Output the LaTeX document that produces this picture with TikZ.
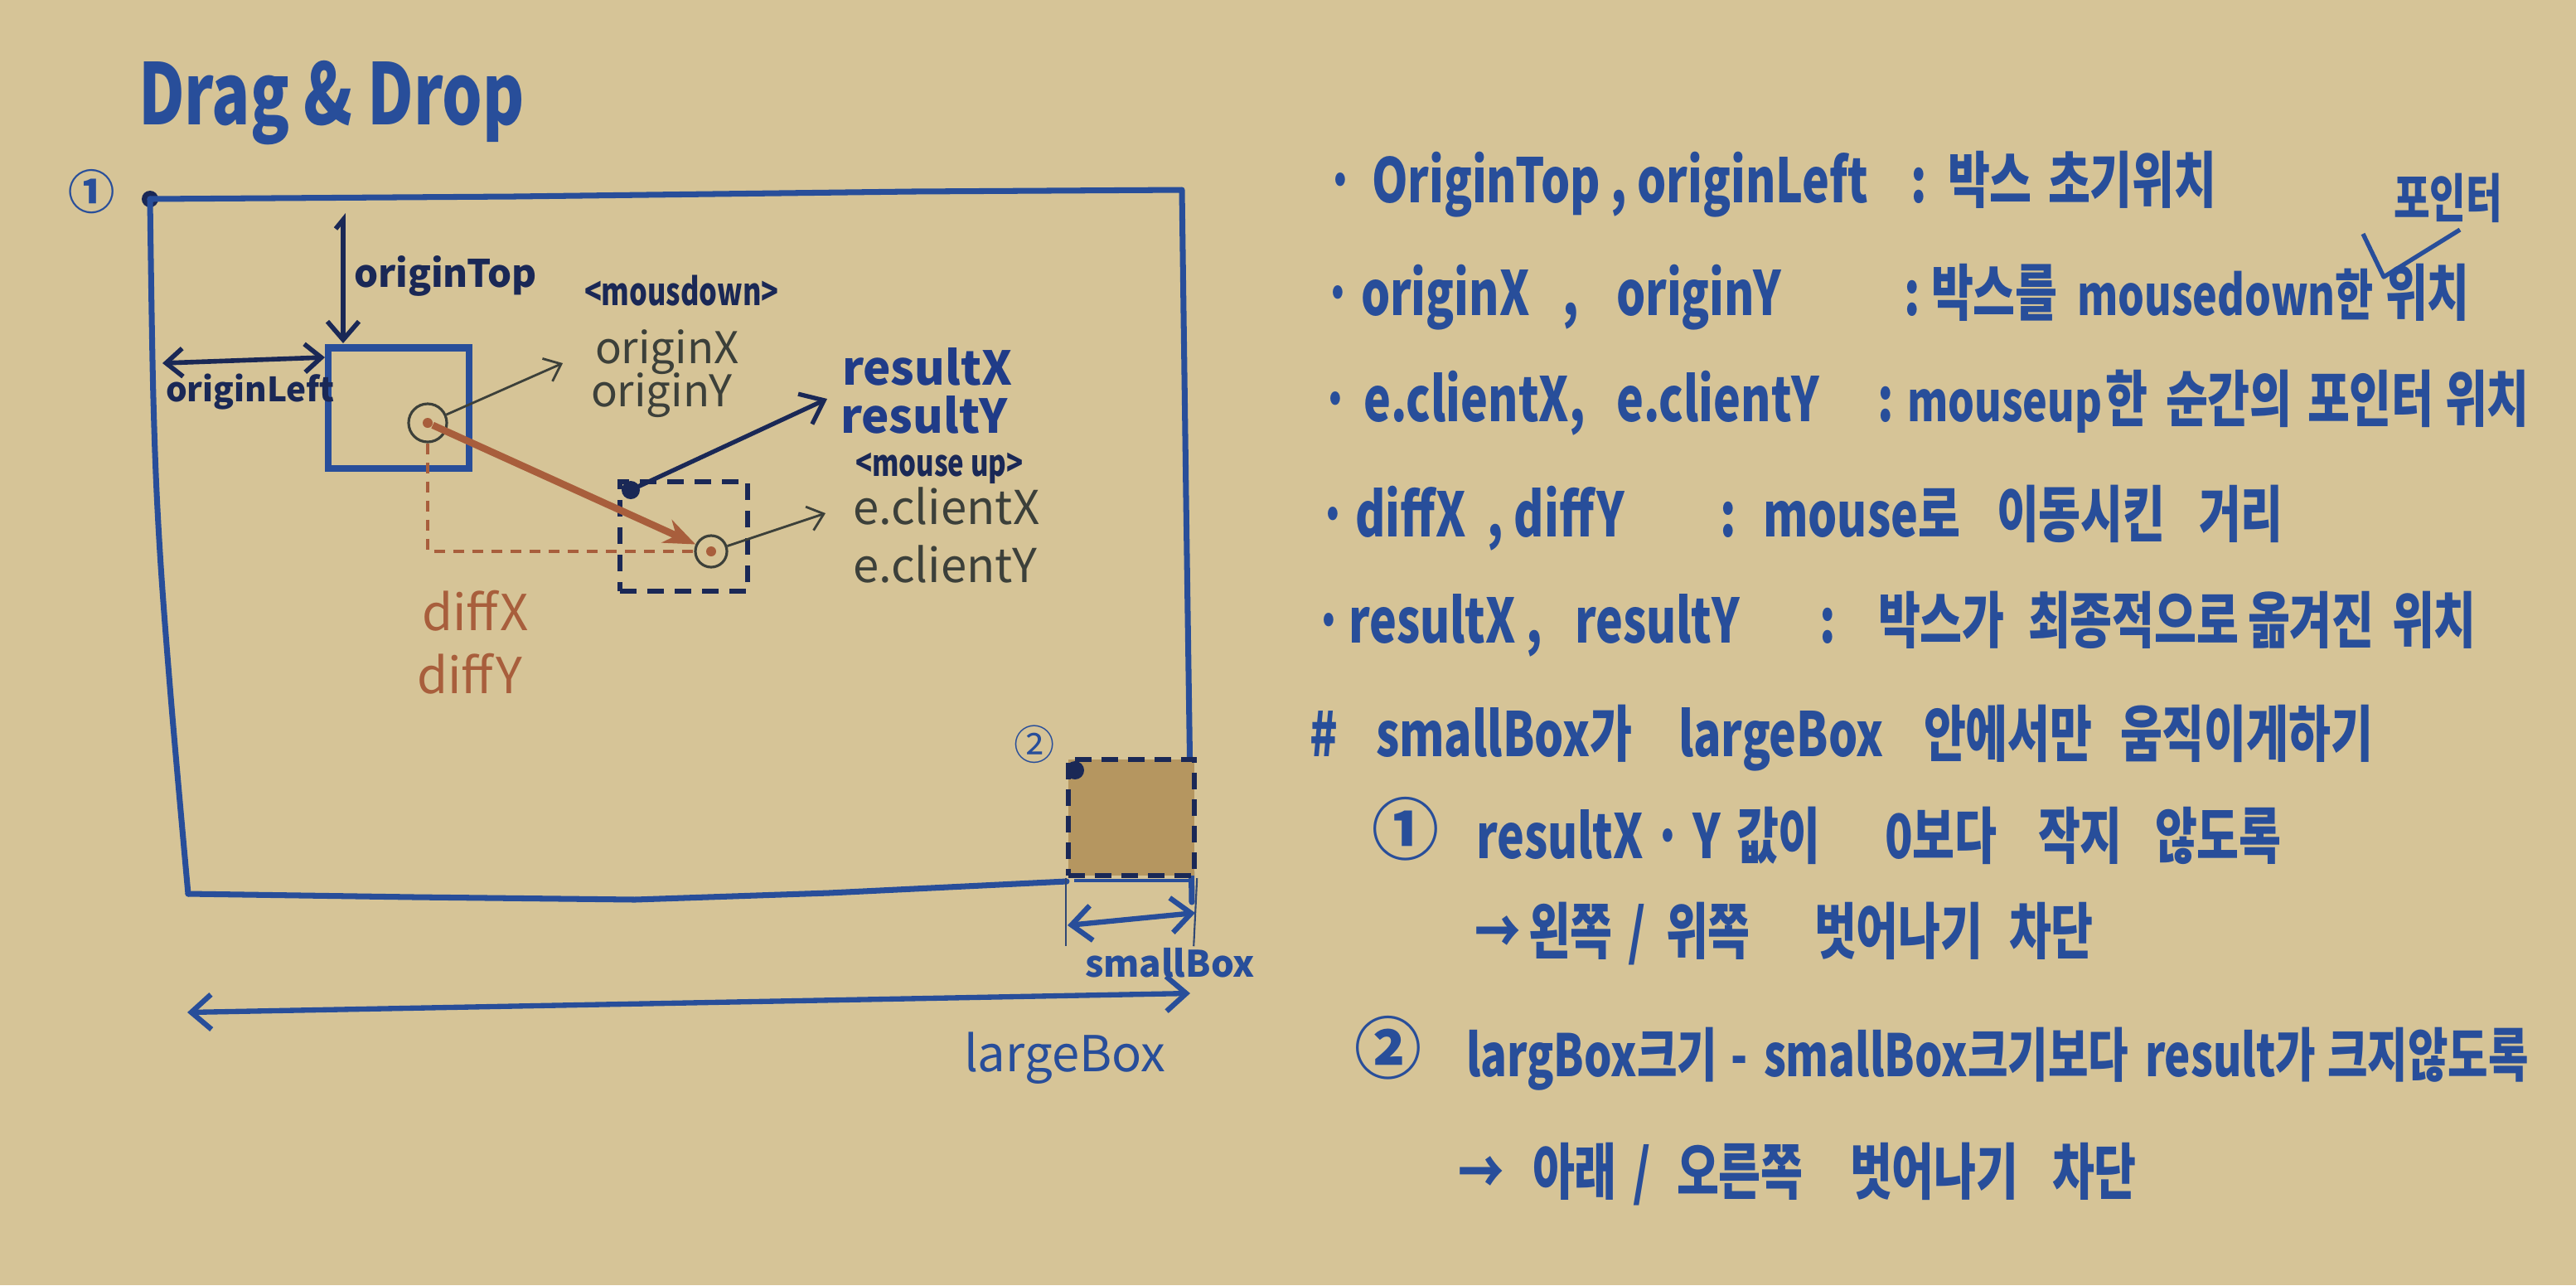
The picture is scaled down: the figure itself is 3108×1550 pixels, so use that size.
\documentclass[tikz,border=0pt]{standalone}
\usepackage{fontspec}
\setmainfont{Noto Sans CJK KR}
\newfontfamily\hand[FakeStretch=0.75]{Noto Sans CJK KR}
\usetikzlibrary{arrows.meta}
\definecolor{paper}{RGB}{214,196,151}
\definecolor{ink}{RGB}{40,78,154}
\definecolor{inkdark}{RGB}{32,60,136}
\definecolor{navy}{RGB}{26,40,86}
\definecolor{pencil}{RGB}{60,64,58}
\definecolor{rust}{RGB}{168,94,60}
\definecolor{boxfill}{RGB}{181,150,96}
\begin{document}
\begin{tikzpicture}[x=0.01cm, y=-0.01cm,
  lbl/.style={inner sep=0pt, outer sep=0pt, anchor=base west},
  listtxt/.style={lbl, text=ink, font=\hand\bfseries\fontsize{21pt}{24pt}\selectfont},
  listsm/.style={lbl, text=ink, font=\hand\bfseries\fontsize{20pt}{23pt}\selectfont},
  listxs/.style={lbl, text=ink, font=\hand\bfseries\fontsize{19pt}{22pt}\selectfont},
  circnum/.style={inner sep=0pt, outer sep=0pt, text=ink},
  inkdot/.style={circle, fill=#1, inner sep=0pt, minimum size=0.2cm},
  boxline/.style={ink, line width=2pt, line join=round, line cap=round},
  barbs/.style={-{Straight Barb[length=0.22cm,width=0.38cm]}},
  dimline/.style={ink, line width=1.8pt, {Straight Barb[length=0.24cm,width=0.42cm]}-{Straight Barb[length=0.24cm,width=0.42cm]}},
  thinarrow/.style={pencil, line width=0.8pt, -{Straight Barb[length=0.18cm,width=0.3cm]}},
  extline/.style={ink!60!pencil, line width=0.6pt},
  pointer/.style={circle, draw=pencil, line width=0.9pt, inner sep=0pt},
  pdot/.style={circle, fill=rust, inner sep=0pt, minimum size=0.12cm}
]
\fill[paper] (0,0) rectangle (3108,1550);
\useasboundingbox (0,0) rectangle (3108,1550);

% ---------- title ----------
\node[lbl, text=ink, font=\hand\bfseries\fontsize{29pt}{32pt}\selectfont] (title) at (167,150) {Drag \& Drop};

% ---------- large box ----------
\node[circnum, font=\bfseries\fontsize{16pt}{17pt}\selectfont] (n1) at (111,231) {①};
\node[inkdot=navy] (c1) at (181,240) {};
\draw[boxline] (c1.center) -- (620,237) -- (1100,231) -- (1426,229) -- (1431,600) -- (1438,1088);
\draw[boxline] plot[smooth, tension=0.6] coordinates {(181,240) (185,480) (192,650) (206,840) (227,1078)};
\draw[boxline] (227,1078) -- (500,1082) -- (766,1085) -- (1000,1077) -- (1287,1063);
\draw[ink, line width=1.3pt] (1296,1062) -- (1440,1062);

% ---------- small box ----------
\node[fill=boxfill, draw=navy, line width=1.8pt, dash pattern=on 0.2cm off 0.12cm,
      minimum width=1.52cm, minimum height=1.40cm, inner sep=0pt] (sbox) at (1365,986) {};
\node[inkdot=navy, minimum size=0.22cm] (d2) at (1297,929) {};
\node[circnum, font=\fontsize{14pt}{15pt}\selectfont] (n2) at (1248,898) {②};
\draw[extline] (sbox.south west) -- ++(0,82);
\draw[extline] (sbox.south east) -- ++(-4,82);
\coordinate (sbL) at (1288,1116);
\coordinate (sbR) at (1442,1101);
\draw[dimline] (sbL) -- (sbR);
\node[lbl, text=ink, font=\bfseries\fontsize{12.5pt}{14pt}\selectfont] (sbt) at (1309,1178) {smallBox};
\coordinate (lbL) at (226,1221);
\coordinate (lbR) at (1436,1198);
\draw[dimline] (lbL) -- (lbR);
\node[lbl, text=ink, font=\fontsize{17pt}{19pt}\selectfont] (lbt) at (1163,1292) {largeBox};

% ---------- original box ----------
\node[draw=ink, line width=2.3pt, minimum width=1.69cm, minimum height=1.45cm, inner sep=0pt] (obox) at (481,492) {};
\coordinate (oTh) at (405,276);
\coordinate (oTs) at (414,265);
\coordinate (oTe) at (414,414);
\draw[navy, line width=1.6pt, barbs] (oTh) -- (oTs) -- (oTe);
\node[lbl, text=navy, font=\bfseries\fontsize{13pt}{15pt}\selectfont] (oTt) at (427,346) {originTop};
\coordinate (oLs) at (196,438);
\coordinate (oLe) at (392,431);
\draw[navy, line width=1.6pt, {Straight Barb[length=0.2cm,width=0.34cm]}-{Straight Barb[length=0.2cm,width=0.34cm]}] (oLs) -- (oLe);
\node[lbl, text=navy, font=\bfseries\fontsize{11.5pt}{13pt}\selectfont] (oLt) at (200,484) {originLeft};

\node[pointer, minimum size=0.46cm] (pc0) at (516,510) {};
\node[pdot] (pd0) at (516,510) {};

% ---------- moved box ----------
\node[draw=navy, line width=1.8pt, dash pattern=on 0.2cm off 0.13cm, minimum width=1.54cm, minimum height=1.32cm, inner sep=0pt] (dbox) at (825,647) {};
\node[pointer, minimum size=0.38cm] (pc1) at (858,665) {};
\node[pdot] (pd1) at (858,665) {};
\node[inkdot=navy, minimum size=0.22cm] (d1) at (761,591) {};

\draw[rust, line width=0.9pt, dash pattern=on 0.13cm off 0.1cm] (pc0.south) |- (pc1.west);
\draw[rust, line width=2.4pt, -{Stealth[length=0.38cm,width=0.3cm]}] (pd0) -- (pc1);

\coordinate (oXa) at (679,438);
\draw[thinarrow] (pc0) -- (oXa);
\coordinate (eXa) at (996,619);
\draw[thinarrow] (pc1) -- (eXa);
\coordinate (rXa) at (998,481);
\draw[navy, line width=1.5pt, -{Straight Barb[length=0.25cm,width=0.4cm]}] (d1.center) -- (rXa);

\node[lbl, text=navy, font=\hand\bfseries\fontsize{13pt}{15pt}\selectfont] (mdt) at (705,368) {<mousdown>};
\node[lbl, text=pencil, font=\fontsize{15pt}{17pt}\selectfont] (oXt) at (718,438) {originX};
\node[lbl, text=pencil, font=\fontsize{15pt}{17pt}\selectfont] (oYt) at (713,490) {originY};
\node[lbl, text=inkdark, font=\bfseries\fontsize{16pt}{18pt}\selectfont] (rXt) at (1016,464) {resultX};
\node[lbl, text=inkdark, font=\bfseries\fontsize{16pt}{18pt}\selectfont] (rYt) at (1014,522) {resultY};
\node[lbl, text=navy, font=\hand\bfseries\fontsize{12.5pt}{14pt}\selectfont] (mut) at (1032,574) {<mouse up>};
\node[lbl, text=pencil, font=\fontsize{16pt}{18pt}\selectfont] (eXt) at (1029,632) {e.clientX};
\node[lbl, text=pencil, font=\fontsize{16pt}{18pt}\selectfont] (eYt) at (1029,702) {e.clientY};
\node[lbl, text=rust, font=\fontsize{17pt}{19pt}\selectfont] (dXt) at (509,760) {diffX};
\node[lbl, text=rust, font=\fontsize{17pt}{19pt}\selectfont] (dYt) at (503,836) {diffY};

% ---------- right-hand notes ----------
% line 1
\node[listtxt] (b1) at (1600,244) {·};
\node[listtxt] (k1) at (1655,244) {OriginTop , originLeft};
\node[listtxt] (s1) at (2305,244) {:};
\node[listtxt] (t1) at (2350,244) {박스};
\node[listtxt] (t1b) at (2471,244) {초기위치};
% line 2
\node[listtxt] (b2) at (1597,380) {·};
\node[listtxt] (k2) at (1642,380) {originX};
\node[listtxt] (k2b) at (1885,380) {,};
\node[listtxt] (k2c) at (1950,380) {originY};
\node[listtxt] (s2) at (2297,380) {:};
\node[listtxt] (t2) at (2330,380) {박스를};
\node[listxs, anchor=base east] (t2m) at (2864,380) {mousedown한};
\node[listtxt] (t2b) at (2878,380) {위치};
\node[listtxt, font=\hand\bfseries\fontsize{18pt}{20pt}\selectfont] (t2c) at (2888,262) {포인터};
\coordinate (ca1) at (2851,282);
\coordinate (ca2) at (2876,334);
\coordinate (ca3) at (2968,277);
\draw[ink, line width=1.5pt, line join=round] (ca1) -- (ca2) -- (ca3);
% line 3
\node[listtxt] (b3) at (1594,508) {·};
\node[listtxt] (k3) at (1645,508) {e.clientX,};
\node[listtxt] (k3b) at (1950,508) {e.clientY};
\node[listtxt] (s3) at (2265,508) {:};
\node[listxs] (t3) at (2301,508) {mouseup};
\node[listtxt] (t3b) at (2540,508) {한};
\node[listtxt] (t3c) at (2613,508) {순간의};
\node[listtxt] (t3d) at (2784,508) {포인터};
\node[listtxt] (t3e) at (2950,508) {위치};
% line 4
\node[listtxt] (b4) at (1591,647) {·};
\node[listtxt] (k4) at (1635,647) {diffX\ \ ,\ diffY};
\node[listtxt] (s4) at (2075,647) {:};
\node[listtxt] (t4) at (2127,647) {mouse로};
\node[listtxt] (t4b) at (2409,647) {이동시킨};
\node[listtxt] (t4c) at (2653,647) {거리};
% line 5
\node[listtxt] (b5) at (1586,775) {·};
\node[listtxt] (k5) at (1627,775) {resultX ,};
\node[listtxt] (k5b) at (1900,775) {resultY};
\node[listtxt] (s5) at (2195,775) {:};
\node[listtxt] (t5) at (2266,775) {박스가};
\node[listtxt] (t5b) at (2447,775) {최종적으로};
\node[listtxt] (t5c) at (2712,775) {옮겨진};
\node[listtxt] (t5d) at (2886,775) {위치};
% line 6
\node[listtxt] (t6) at (1580,912) {\#};
\node[listtxt] (t6b) at (1660,912) {smallBox가};
\node[listtxt] (t6c) at (2025,912) {largeBox};
\node[listtxt] (t6d) at (2321,912) {안에서만};
\node[listtxt] (t6e) at (2558,912) {움직이게하기};
% line 7
\node[circnum, font=\bfseries\fontsize{23pt}{24pt}\selectfont] (n3) at (1696,1000) {①};
\node[listtxt] (t7) at (1781,1035) {resultX · Y};
\node[listtxt] (t7b) at (2095,1035) {값이};
\node[listtxt] (t7c) at (2274,1035) {0보다};
\node[listtxt] (t7d) at (2459,1035) {작지};
\node[listtxt] (t7e) at (2600,1035) {않도록};
% line 8
\node[listtxt] (t8) at (1779,1150) {→};
\node[listtxt] (t8b) at (1844,1150) {왼쪽};
\node[listtxt] (t8s) at (1964,1150) {/};
\node[listtxt] (t8c) at (2010,1150) {위쪽};
\node[listtxt] (t8d) at (2189,1150) {벗어나기};
\node[listtxt] (t8e) at (2424,1150) {차단};
% line 9
\node[circnum, font=\bfseries\fontsize{23pt}{24pt}\selectfont] (n4) at (1675,1264) {②};
\node[listsm] (t9) at (1769,1298) {largBox크기};
\node[listsm] (t9b) at (2088,1298) {-};
\node[listsm] (t9c) at (2128,1298) {smallBox크기보다};
\node[listsm] (t9d) at (2588,1298) {result가};
\node[listsm] (t9e) at (2808,1298) {크지않도록};
% line 10
\node[listtxt] (t10) at (1759,1440) {→};
\node[listtxt] (t10b) at (1849,1440) {아래};
\node[listtxt] (t10s) at (1970,1440) {/};
\node[listtxt] (t10c) at (2023,1440) {오른쪽};
\node[listtxt] (t10d) at (2232,1440) {벗어나기};
\node[listtxt] (t10e) at (2476,1440) {차단};
\end{tikzpicture}
\end{document}
